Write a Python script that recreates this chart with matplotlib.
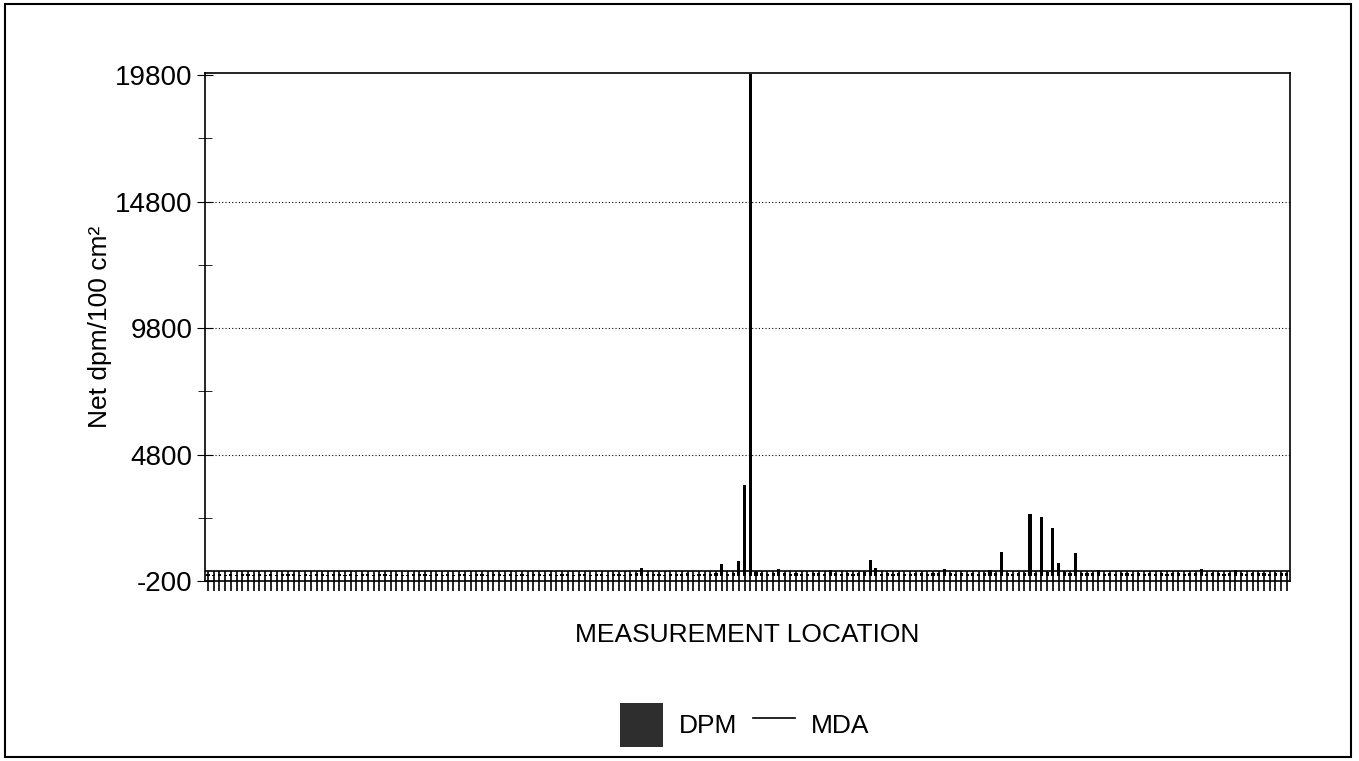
import numpy as np
import matplotlib.pyplot as plt
from matplotlib.patches import Rectangle

plt.rcParams['font.family'] = ['Liberation Sans', 'DejaVu Sans']
plt.rcParams['axes.unicode_minus'] = False

dpm = [
    60, 45, 80, 55, 70, 40, 90, 65, 50, 75,
    55, 85, 40, 70, 60, 95, 50, 65, 45, 80,
    70, 50, 60, 85, 45, 75, 55, 90, 60, 40,
    65, 80, 50, 70, 55, 45, 85, 60, 75, 50,
    90, 55, 65, 40, 80, 70, 50, 60, 85, 45,
    60, 75, 55, 95, 50, 65, 40, 80, 70, 55,
    85, 45, 70, 60, 50, 90, 65, 55, 75, 60,
    50, 80, 65, 45, 70, 100, 300, 90, 60, 75,
    55, 85, 70, 60, 110, 50, 80, 95, 65, 120,
    460, 90, 130, 600, 3600, 19850, 150, 110, 90, 120,
    260, 100, 80, 120, 95, 70, 110, 130, 90, 250,
    100, 85, 120, 95, 110, 140, 620, 300, 90, 120,
    80, 110, 95, 70, 130, 100, 85, 120, 110, 270,
    100, 90, 120, 80, 110, 95, 130, 250, 120, 950,
    110, 90, 130, 100, 2450, 120, 2350, 140, 1900, 500,
    150, 110, 900, 130, 100, 120, 250, 90, 110, 80,
    100, 120, 90, 110, 80, 130, 95, 105, 85, 115,
    100, 90, 120, 110, 270, 95, 130, 105, 85, 120,
    250, 110, 95, 130, 100, 120, 90, 115, 105, 125,
]
mda = 180
y_ticks = [-200, 4800, 9800, 14800, 19800]
y_minor = [2300, 7300, 12300, 17300]

x = np.arange(len(dpm))

fig = plt.figure(figsize=(13.59, 7.61), dpi=100)
ax = fig.add_axes([0.151, 0.2365, 0.798, 0.668])

bars = ax.bar(x, dpm, width=0.55, color='black', label='DPM')
mda_line = ax.axhline(mda, color='black', lw=1.2, label='MDA')

ax.set_xlim(-0.5, len(dpm) - 0.5)
ax.set_ylim(-200, 19900)
ax.set_yticks(y_ticks)
ax.set_yticks(y_minor, minor=True)
ax.set_xticks(x)
ax.set_xticklabels([])
ax.tick_params(axis='x', direction='inout', length=14, width=1.2)
ax.tick_params(axis='y', which='major', direction='inout', length=12, labelsize=20, pad=3)
ax.tick_params(axis='y', which='minor', direction='inout', length=10)

for v in y_ticks[1:-1]:
    ax.axhline(v, color='black', lw=0.8, ls=(0, (1, 2)), zorder=0)

for s in ax.spines.values():
    s.set_linewidth(1.2)

ax.set_ylabel('Net dpm/100 cm²', fontsize=19, labelpad=2)
ax.set_xlabel('MEASUREMENT LOCATION', fontsize=19, labelpad=20)

leg = fig.legend(handles=[bars, mda_line], loc='center', bbox_to_anchor=(0.548, 0.047),
                 ncol=2, frameon=False, fontsize=19, handlelength=1.6, handleheight=2.2,
                 columnspacing=0.6, handletextpad=0.6)
leg.legend_handles[0].set_facecolor('#2e2e2e')

# outer frame of the page
fig.patches.append(Rectangle((0.004, 0.005), 0.99, 0.99, transform=fig.transFigure,
                             fill=False, edgecolor='black', lw=1.5))

plt.savefig('out.png')
